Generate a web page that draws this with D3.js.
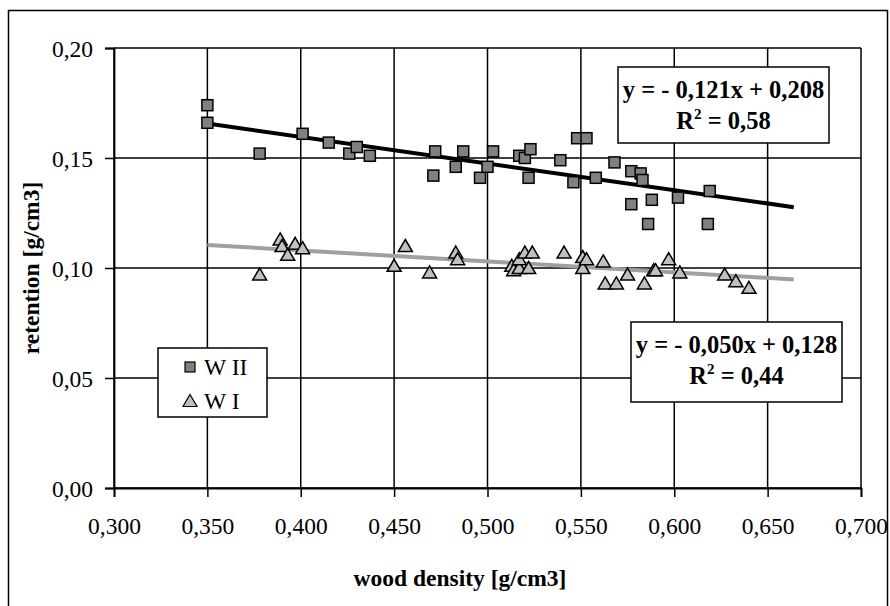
<!DOCTYPE html>
<html>
<head>
<meta charset="utf-8">
<script src="https://cdn.jsdelivr.net/npm/d3@7"></script>
<style>
  body { margin: 0; background: #fff; }
  svg text { font-family: "Times New Roman", "Liberation Serif", serif; }
</style>
</head>
<body>
<svg id="chart" width="890" height="606"></svg>
<script>
// W II (squares)
const w2X = [0.350, 0.350, 0.378, 0.401, 0.415, 0.426, 0.430, 0.437, 0.471, 0.472, 0.483, 0.487,
  0.496, 0.500, 0.503, 0.517, 0.520, 0.522, 0.523, 0.539, 0.546, 0.548, 0.553, 0.558, 0.568,
  0.577, 0.577, 0.582, 0.583, 0.586, 0.588, 0.602, 0.618, 0.619];
const w2Y = [0.174, 0.166, 0.152, 0.161, 0.157, 0.152, 0.155, 0.151, 0.142, 0.153, 0.146, 0.153,
  0.141, 0.146, 0.153, 0.151, 0.150, 0.141, 0.154, 0.149, 0.139, 0.159, 0.159, 0.141, 0.148,
  0.144, 0.129, 0.143, 0.140, 0.120, 0.131, 0.132, 0.120, 0.135];

// W I (triangles)
const w1X = [0.378, 0.389, 0.390, 0.393, 0.397, 0.401, 0.450, 0.456, 0.469, 0.483, 0.484, 0.513,
  0.514, 0.517, 0.517, 0.520, 0.522, 0.524, 0.541, 0.551, 0.551, 0.553, 0.562, 0.563, 0.569,
  0.575, 0.584, 0.589, 0.590, 0.597, 0.603, 0.627, 0.633, 0.640];
const w1Y = [0.097, 0.113, 0.110, 0.106, 0.111, 0.109, 0.101, 0.110, 0.098, 0.107, 0.104, 0.101,
  0.099, 0.100, 0.104, 0.107, 0.100, 0.107, 0.107, 0.105, 0.100, 0.104, 0.103, 0.093, 0.093,
  0.097, 0.093, 0.099, 0.099, 0.104, 0.098, 0.097, 0.094, 0.091];

// trend lines  y = a*x + b
const trendRange = [0.350, 0.664];
const trendW2 = { a: -0.121, b: 0.208, label: "y = - 0,121x + 0,208", r2: "0,58" };
const trendW1 = { a: -0.050, b: 0.128, label: "y = - 0,050x + 0,128", r2: "0,44" };

const xTicks = [0.300, 0.350, 0.400, 0.450, 0.500, 0.550, 0.600, 0.650, 0.700];
const yTicks = [0.00, 0.05, 0.10, 0.15, 0.20];

const svg = d3.select("#chart");
const locale = d3.formatLocale({ decimal: ",", thousands: ".", grouping: [3], currency: ["", ""] });

const plotL = 114, plotR = 861, plotT = 48, plotB = 488;
const x = d3.scaleLinear().domain([0.3, 0.7]).range([plotL, plotR]);
const y = d3.scaleLinear().domain([0, 0.2]).range([plotB, plotT]);

// outer frame
svg.append("rect")
  .attr("x", 8.5).attr("y", 10.5).attr("width", 879).attr("height", 610)
  .attr("fill", "none").attr("stroke", "#000").attr("stroke-width", 1.5);

// gridlines
svg.append("g").selectAll("line").data(xTicks).join("line")
  .attr("x1", (d) => x(d)).attr("x2", (d) => x(d))
  .attr("y1", plotT).attr("y2", plotB)
  .attr("stroke", "#000").attr("stroke-width", 1.5);
svg.append("g").selectAll("line").data(yTicks).join("line")
  .attr("x1", plotL).attr("x2", plotR)
  .attr("y1", (d) => y(d)).attr("y2", (d) => y(d))
  .attr("stroke", "#000").attr("stroke-width", 1.5);

// axes
const xAxis = svg.append("g")
  .attr("transform", `translate(0,${plotB})`)
  .call(d3.axisBottom(x).tickValues(xTicks).tickFormat(locale.format(".3f")).tickSize(9).tickPadding(20));
const yAxis = svg.append("g")
  .attr("transform", `translate(${plotL},0)`)
  .call(d3.axisLeft(y).tickValues(yTicks).tickFormat(locale.format(".2f")).tickSize(9).tickPadding(12));
[xAxis, yAxis].forEach((g) => {
  g.select(".domain").attr("stroke", "#000").attr("stroke-width", 1.8);
  g.selectAll(".tick line").attr("stroke", "#000").attr("stroke-width", 1.5);
  g.selectAll(".tick text")
    .attr("fill", "#000")
    .style("font-size", "23.5px")
    .style("font-family", '"Times New Roman", "Liberation Serif", serif');
});
yAxis.selectAll(".tick text").attr("dy", "0.35em");

// axis titles
svg.append("text")
  .attr("x", 460).attr("y", 586)
  .attr("text-anchor", "middle")
  .attr("font-weight", "bold").attr("font-size", 23.5)
  .text("wood density [g/cm3]");
svg.append("text")
  .attr("transform", `translate(39,${(plotT + plotB) / 2}) rotate(-90)`)
  .attr("text-anchor", "middle")
  .attr("font-weight", "bold").attr("font-size", 23.5)
  .text("retention [g/cm3]");

// trend lines
const drawTrend = (t, color) => {
  svg.append("line")
    .attr("x1", x(trendRange[0])).attr("y1", y(t.a * trendRange[0] + t.b))
    .attr("x2", x(trendRange[1])).attr("y2", y(t.a * trendRange[1] + t.b))
    .attr("stroke", color).attr("stroke-width", 4);
};
drawTrend(trendW2, "#000");
drawTrend(trendW1, "#a0a0a0");

// markers
const sq = 11;
const triPath = (cx, cy) => {
  const h = 11, w = 14;
  return `M${cx},${cy - h / 2 - 1}L${cx + w / 2},${cy + h / 2}L${cx - w / 2},${cy + h / 2}Z`;
};

svg.append("g").selectAll("path").data(w1X).join("path")
  .attr("d", (d, i) => triPath(x(d), y(w1Y[i])))
  .attr("fill", "#c0c0c0").attr("stroke", "#000").attr("stroke-width", 1.5);

svg.append("g").selectAll("rect").data(w2X).join("rect")
  .attr("x", (d) => x(d) - sq / 2)
  .attr("y", (d, i) => y(w2Y[i]) - sq / 2)
  .attr("width", sq).attr("height", sq)
  .attr("fill", "#808080").attr("stroke", "#000").attr("stroke-width", 1.5);

// equation boxes
const eqBox = (t, bx, by, bw, bh) => {
  const g = svg.append("g");
  g.append("rect")
    .attr("x", bx).attr("y", by).attr("width", bw).attr("height", bh)
    .attr("fill", "#fff").attr("stroke", "#000").attr("stroke-width", 1.5);
  g.append("text")
    .attr("x", bx + bw / 2).attr("y", by + 31)
    .attr("text-anchor", "middle").attr("font-weight", "bold").attr("font-size", 24.5)
    .text(t.label);
  const r = g.append("text")
    .attr("x", bx + bw / 2).attr("y", by + 62)
    .attr("text-anchor", "middle").attr("font-weight", "bold").attr("font-size", 24.5);
  r.append("tspan").text("R");
  r.append("tspan").attr("font-size", 15).attr("dy", -10).text("2");
  r.append("tspan").attr("dy", 10).text(" = " + t.r2);
};
eqBox(trendW2, 618, 67, 211, 76);
eqBox(trendW1, 631, 322, 211, 80);

// legend
const lg = svg.append("g");
lg.append("rect")
  .attr("x", 158).attr("y", 348).attr("width", 109).attr("height", 69)
  .attr("fill", "#fff").attr("stroke", "#000").attr("stroke-width", 1.5);
lg.append("rect")
  .attr("x", 190 - 5).attr("y", 367 - 5).attr("width", 10).attr("height", 10)
  .attr("fill", "#808080").attr("stroke", "#000").attr("stroke-width", 1.2);
lg.append("path")
  .attr("d", triPath(190, 401))
  .attr("fill", "#c0c0c0").attr("stroke", "#000").attr("stroke-width", 1.2);
lg.append("text").attr("x", 204).attr("y", 375).attr("font-size", 23.5).text("W II");
lg.append("text").attr("x", 204).attr("y", 409).attr("font-size", 23.5).text("W I");
</script>
</body>
</html>
